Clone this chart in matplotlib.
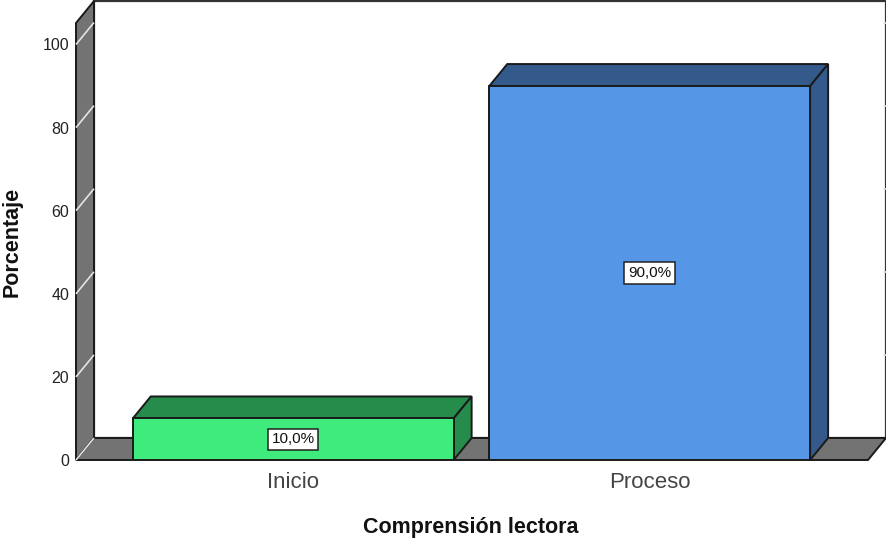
import matplotlib
matplotlib.use("Agg")
import matplotlib.pyplot as plt
from matplotlib.patches import Polygon

categories = ["Inicio", "Proceso"]
percentages = [10.0, 90.0]
value_labels = ["10,0%", "90,0%"]
y_ticks = [0, 20, 40, 60, 80, 100]

W, H = 887, 539
FRONT_L, FRONT_R, FRONT_B, FRONT_T = 76, 868, 460, 23
DEPTH_X, DEPTH_Y = 18, 22  # extrusion of the 3D box, in pixels

plt.rcParams["font.family"] = ["Liberation Sans", "DejaVu Sans"]

fig = plt.figure(figsize=(W / 100, H / 100), dpi=100, facecolor="white")
ax = fig.add_axes([FRONT_L / W, 1 - FRONT_B / H, (FRONT_R - FRONT_L) / W, (FRONT_B - FRONT_T) / H])
ax.set_facecolor("none")

px_per_unit = 4.155
px_per_cat = 356.5
ax.set_ylim(0, (FRONT_B - FRONT_T) / px_per_unit)
ax.set_xlim(-(293.2 - FRONT_L) / px_per_cat, (FRONT_R - 293.2) / px_per_cat)
dx = DEPTH_X / px_per_cat
dy = DEPTH_Y / px_per_unit
x0, x1 = ax.get_xlim()
y0, y1 = ax.get_ylim()

for side in ax.spines.values():
    side.set_visible(False)


def face(points, color, z=1, edge="#1a1a1a", lw=1.4):
    ax.add_patch(Polygon(points, closed=True, facecolor=color, edgecolor=edge,
                         linewidth=lw, joinstyle="miter", clip_on=False, zorder=z))


# back wall, side wall and floor
face([(x0 + dx, y0 + dy), (x1 + dx, y0 + dy), (x1 + dx, y1 + dy), (x0 + dx, y1 + dy)], "white", z=1, edge="#333333", lw=1.6)
face([(x0, y0), (x0 + dx, y0 + dy), (x0 + dx, y1 + dy), (x0, y1)], "#737373", z=2)
face([(x0, y0), (x1, y0), (x1 + dx, y0 + dy), (x0 + dx, y0 + dy)], "#737373", z=2)

# gridline stubs running across the side wall
for t in y_ticks:
    ax.plot([x0, x0 + dx], [t, t + dy], color="#e4e4e4", lw=1.2, clip_on=False, zorder=3,
            solid_capstyle="butt")
    if t > 0:
        ax.plot([x1 + dx - 0.006, x1 + dx + 0.002], [t + dy, t + dy], color="#e4e4e4", lw=1.2,
                clip_on=False, zorder=3)

# extruded bars
width = 0.9
front_colors = ["#3EEB7C", "#5596E6"]
top_colors = ["#268C4B", "#335A8A"]
for i, (val, lab) in enumerate(zip(percentages, value_labels)):
    l, r = i - width / 2, i + width / 2
    face([(l, val), (r, val), (r + dx, val + dy), (l + dx, val + dy)], top_colors[i], z=4)
    face([(r, 0), (r + dx, dy), (r + dx, val + dy), (r, val)], top_colors[i], z=4)
    ax.bar(i, val, width=width, color=front_colors[i], edgecolor="#1a1a1a", linewidth=1.4, zorder=5)
    ax.text(i, val / 2, lab, ha="center", va="center", fontsize=11, color="#111111", zorder=6,
            bbox=dict(boxstyle="square,pad=0.24", facecolor="white", edgecolor="#222222", linewidth=1.1))

ax.set_yticks(y_ticks)
ax.set_xticks(range(len(categories)))
ax.set_xticklabels(categories)
ax.tick_params(axis="y", length=0, pad=5, labelsize=11.5, labelcolor="#222222")
ax.tick_params(axis="x", length=0, pad=9, labelsize=16, labelcolor="#444444")

fig.text(12 / W, 1 - 242 / H, "Porcentaje", rotation=90, ha="center", va="center",
         fontsize=15.5, fontweight="bold", color="#111111")
fig.text(471 / W, 1 - 527 / H, "Comprensión lectora", ha="center", va="center",
         fontsize=15.5, fontweight="bold", color="#111111")

fig.savefig("out.png", dpi=100)
